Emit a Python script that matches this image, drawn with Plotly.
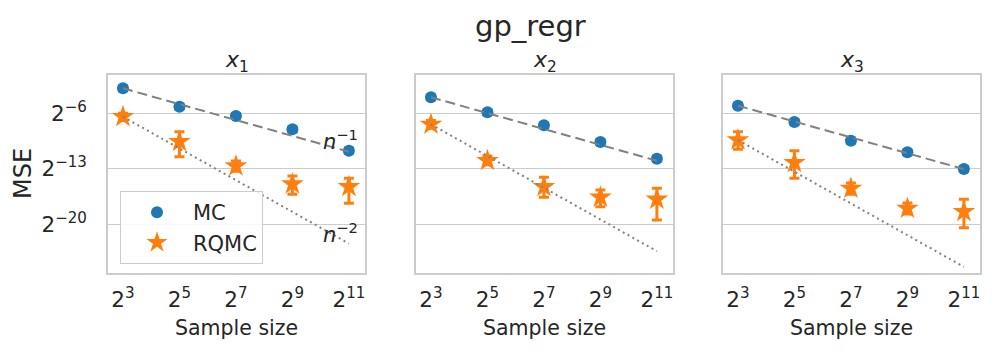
import math
import plotly.graph_objects as go

# ---------------- data (log2 of MSE) ----------------
sample_sizes = [8, 32, 128, 512, 2048]
x_tick_text = ["2<sup>3</sup>", "2<sup>5</sup>", "2<sup>7</sup>", "2<sup>9</sup>", "2<sup>11</sup>"]
y_tick_exps = [-6, -13, -20]
y_tick_text = ["2<sup>−6</sup>", "2<sup>−13</sup>", "2<sup>−20</sup>"]
panel_titles = ["<i>x</i><sub>1</sub>", "<i>x</i><sub>2</sub>", "<i>x</i><sub>3</sub>"]

mc_x1 = [-2.85, -5.17, -6.34, -8.02, -10.71]
mc_x2 = [-3.98, -5.87, -7.51, -9.62, -11.72]
mc_x3 = [-5.04, -7.10, -9.45, -10.92, -13.02]

rqmc_x1 = [-6.43, -9.58, -12.65, -14.92, -15.26]
rqmc_x1_lo = [-6.9, -11.47, -13.3, -16.2, -17.35]
rqmc_x1_hi = [-6.0, -8.32, -12.0, -13.9, -14.2]

rqmc_x2 = [-7.39, -11.97, -15.26, -16.59, -16.84]
rqmc_x2_lo = [-7.9, -12.5, -16.59, -17.78, -19.46]
rqmc_x2_hi = [-6.9, -11.4, -14.07, -15.67, -15.46]

rqmc_x3 = [-9.37, -12.23, -15.46, -17.99, -18.41]
rqmc_x3_lo = [-10.54, -14.2, -16.2, -18.7, -20.43]
rqmc_x3_hi = [-8.32, -10.71, -14.8, -17.3, -16.84]

mc_err = 0.3  # half-spread of the small MC bars (log2)

# reference rate lines: endpoints (log2) at n=2^3 and n=2^11
rate_n = [8, 2048]
rate1_x1 = [-2.85, -10.85]
rate1_x2 = [-3.98, -11.98]
rate1_x3 = [-5.04, -13.04]
rate2_x1 = [-6.43, -22.43]
rate2_x2 = [-7.39, -23.39]
rate2_x3 = [-9.37, -25.37]

BLUE = "#1f77b4"
ORANGE = "#ff7f0e"
GREY = "#808080"
FONT = "DejaVu Sans"
TXT = "#262626"

W, H = 996, 351
panels_px = [(108, 365), (416, 673), (723, 980)]
top_px, bot_px = 75, 273


def px_x(p):
    return p / W


def px_y(p):
    return (H - p) / H


def p2(v):
    return [2.0 ** e for e in v]


fig = go.Figure()

mc_all = [mc_x1, mc_x2, mc_x3]
rq_all = [(rqmc_x1, rqmc_x1_lo, rqmc_x1_hi), (rqmc_x2, rqmc_x2_lo, rqmc_x2_hi),
          (rqmc_x3, rqmc_x3_lo, rqmc_x3_hi)]
r1_all = [rate1_x1, rate1_x2, rate1_x3]
r2_all = [rate2_x1, rate2_x2, rate2_x3]

for i in range(3):
    xa = "x" if i == 0 else f"x{i+1}"
    ya = "y" if i == 0 else f"y{i+1}"
    mc = mc_all[i]
    c, lo, hi = rq_all[i]
    fig.add_trace(go.Scatter(
        x=sample_sizes, y=p2(mc), mode="markers", name="MC",
        marker=dict(symbol="circle", size=12, color=BLUE),
        error_y=dict(type="data", symmetric=False,
                     array=[2 ** (m + mc_err) - 2 ** m for m in mc],
                     arrayminus=[2 ** m - 2 ** (m - mc_err) for m in mc],
                     color=BLUE, thickness=3, width=5),
        showlegend=(i == 0), legendgroup="MC", xaxis=xa, yaxis=ya))
    fig.add_trace(go.Scatter(
        x=sample_sizes, y=p2(c), mode="markers", name="RQMC",
        marker=dict(symbol="star", size=17, color=ORANGE),
        error_y=dict(type="data", symmetric=False,
                     array=[2 ** h - 2 ** m for m, h in zip(c, hi)],
                     arrayminus=[2 ** m - 2 ** l for m, l in zip(c, lo)],
                     color=ORANGE, thickness=3, width=5),
        showlegend=(i == 0), legendgroup="RQMC", xaxis=xa, yaxis=ya))
    fig.add_trace(go.Scatter(
        x=rate_n, y=p2(r1_all[i]), mode="lines",
        line=dict(color=GREY, width=2, dash="10px,5px"),
        showlegend=False, hoverinfo="skip", xaxis=xa, yaxis=ya))
    fig.add_trace(go.Scatter(
        x=rate_n, y=p2(r2_all[i]), mode="lines",
        line=dict(color=GREY, width=2, dash="2px,3.5px"),
        showlegend=False, hoverinfo="skip", xaxis=xa, yaxis=ya))

x_range = [math.log10(2 ** 2.47), math.log10(2 ** 11.57)]
y_range = [math.log10(2 ** -26.14), math.log10(2 ** -1.17)]

layout = dict(
    width=W, height=H,
    margin=dict(l=0, r=0, t=0, b=0, autoexpand=False),
    paper_bgcolor="white", plot_bgcolor="white",
    font=dict(family=FONT, color=TXT),
    showlegend=True,
    legend=dict(x=px_x(120), y=px_y(191), xanchor="left", yanchor="top",
                bgcolor="rgba(255,255,255,0.85)", bordercolor="#cccccc", borderwidth=1,
                font=dict(family=FONT, size=21, color=TXT), itemwidth=62,
                tracegroupgap=0),
)

annotations = []
for i, (l, r) in enumerate(panels_px):
    sfx = "" if i == 0 else str(i + 1)
    layout["xaxis" + sfx] = dict(
        domain=[px_x(l), px_x(r)], type="log", range=x_range,
        tickvals=sample_sizes, ticktext=x_tick_text, ticks="",
        ticklabelstandoff=6,
        tickfont=dict(family=FONT, size=21.5, color=TXT),
        showgrid=False, showline=True, mirror=True, linecolor="#cccccc", linewidth=1.5,
        anchor="y" + sfx, automargin=False)
    layout["yaxis" + sfx] = dict(
        domain=[px_y(bot_px), px_y(top_px)], type="log", range=y_range,
        tickvals=[2.0 ** e for e in y_tick_exps], ticktext=y_tick_text, ticks="",
        ticklabelstandoff=15,
        showticklabels=(i == 0),
        tickfont=dict(family=FONT, size=21.5, color=TXT),
        showgrid=True, gridcolor="#cccccc", gridwidth=1.2,
        showline=True, mirror=True, linecolor="#cccccc", linewidth=1.5,
        anchor="x" + sfx, automargin=False)
    cx = (l + r) / 2
    annotations.append(dict(text=panel_titles[i], x=px_x(cx), y=px_y(61), xref="paper", yref="paper",
                            showarrow=False, xanchor="center", yanchor="middle",
                            font=dict(family=FONT, size=22, color=TXT)))
    annotations.append(dict(text="Sample size", x=px_x(cx), y=px_y(328), xref="paper", yref="paper",
                            showarrow=False, xanchor="center", yanchor="middle",
                            font=dict(family=FONT, size=20.5, color=TXT)))

annotations.append(dict(text="gp_regr", x=px_x(530), y=px_y(26), xref="paper", yref="paper",
                        showarrow=False, xanchor="center", yanchor="middle",
                        font=dict(family=FONT, size=29, color=TXT)))
annotations.append(dict(text="MSE", x=px_x(23), y=px_y(174), xref="paper", yref="paper",
                        showarrow=False, xanchor="center", yanchor="middle", textangle=-90,
                        font=dict(family=FONT, size=24, color=TXT)))
annotations.append(dict(text="<i>n</i><sup>−1</sup>", x=math.log10(2 ** 10.72), y=math.log10(2 ** -9.37),
                        xref="x", yref="y", showarrow=False, xanchor="center", yanchor="middle",
                        font=dict(family=FONT, size=21, color=TXT)))
annotations.append(dict(text="<i>n</i><sup>−2</sup>", x=math.log10(2 ** 10.72), y=math.log10(2 ** -21.1),
                        xref="x", yref="y", showarrow=False, xanchor="center", yanchor="middle",
                        font=dict(family=FONT, size=21, color=TXT)))
layout["annotations"] = annotations

fig.update_layout(**layout)
fig.write_html("out.html", config={"displayModeBar": False},
               post_script="document.body.style.margin='0px';")
